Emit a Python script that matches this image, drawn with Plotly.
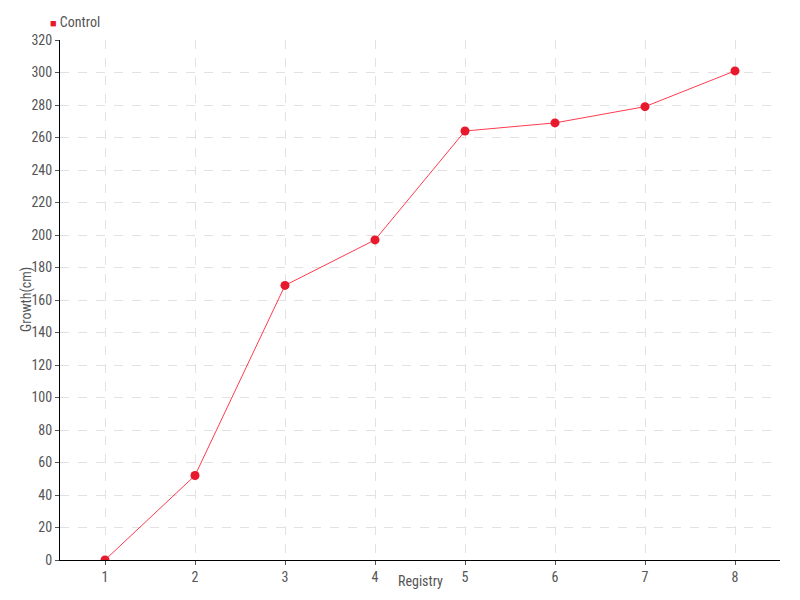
import plotly.graph_objects as go

registry = [1, 2, 3, 4, 5, 6, 7, 8]
growth = [0, 52, 169, 197, 264, 269, 279, 301]
series_name = "Control"
x_title = "Registry"
y_title = "Growth(cm)"
y_ticks = list(range(0, 321, 20))

font_family = "Liberation Sans Narrow, Roboto Condensed, Arial Narrow, sans-serif"
line_color = "#ff3b4e"
marker_color = "#e8192c"
text_color = "#555555"

# The page puts the figure 8px in from the top-left, so margins are offset.
OFF = 8
L, T, W, H = 60, 40, 720, 520

fig = go.Figure()
fig.add_trace(go.Scatter(
    x=registry, y=growth, name=series_name, mode="lines+markers",
    line=dict(color=line_color, width=1),
    marker=dict(color=marker_color, size=9, symbol="circle"),
    showlegend=False,
))

def px_x(p):
    return (p - L) / W

def px_y(p):
    return (T + H - p) / H

fig.update_layout(
    width=800, height=600,
    margin=dict(l=L - OFF, r=800 - (L - OFF) - W, t=T - OFF, b=600 - (T - OFF) - H,
                autoexpand=False),
    paper_bgcolor="white", plot_bgcolor="white",
    font=dict(family=font_family, size=14, color=text_color),
    showlegend=False,
    xaxis=dict(
        range=[0.5, 8.5], tickmode="array", tickvals=registry,
        showline=True, linecolor="black", linewidth=1,
        ticks="outside", ticklen=4, tickcolor=text_color,
        showgrid=True, gridcolor="#e2e2e2", griddash="dash", gridwidth=1,
        zeroline=False, automargin=False,
    ),
    yaxis=dict(
        range=[0, 320], tickmode="array", tickvals=y_ticks,
        showline=True, linecolor="black", linewidth=1,
        ticks="outside", ticklen=4, tickcolor=text_color,
        showgrid=True, gridcolor="#e2e2e2", griddash="dash", gridwidth=1,
        zeroline=False, automargin=False,
    ),
    annotations=[
        dict(text=x_title, xref="paper", yref="paper", x=0.5, y=px_y(581),
             xanchor="center", yanchor="middle", showarrow=False,
             font=dict(size=14, color=text_color)),
        dict(text=y_title, xref="paper", yref="paper", x=px_x(26), y=0.5,
             xanchor="center", yanchor="middle", showarrow=False, textangle=-90,
             font=dict(size=14, color=text_color)),
        dict(text=f"<span style='color:{marker_color};font-size:11px'>■</span> {series_name}",
             xref="paper", yref="paper", x=px_x(48), y=px_y(22),
             xanchor="left", yanchor="middle", showarrow=False,
             font=dict(size=14, color=text_color)),
    ],
)

fig.write_html("out.html")
